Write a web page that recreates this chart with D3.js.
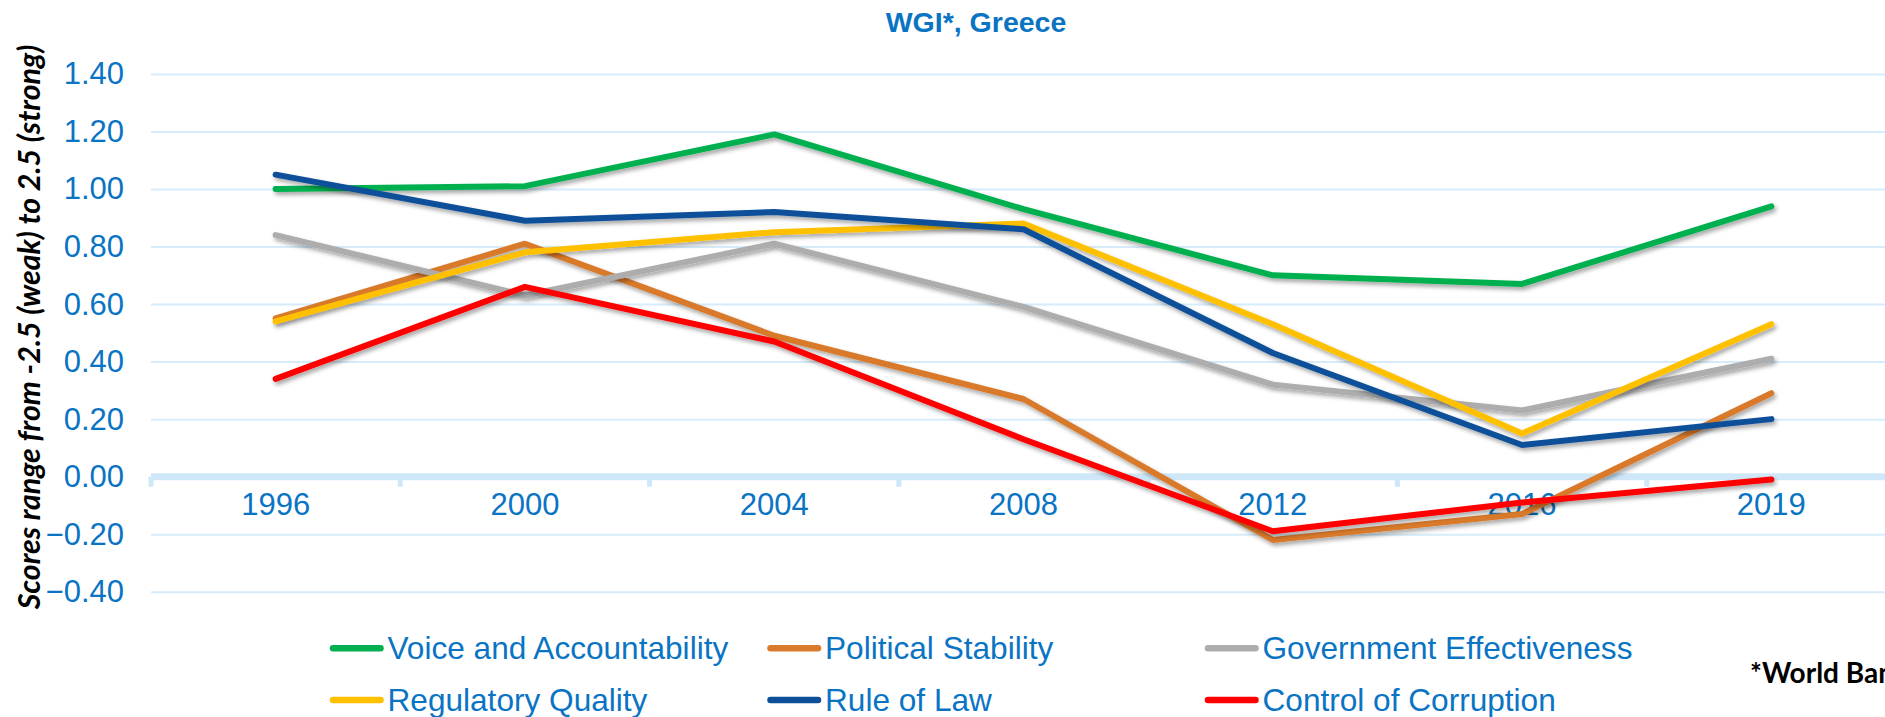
<!DOCTYPE html>
<html><head><meta charset="utf-8">
<script src="https://cdn.jsdelivr.net/npm/d3@7"></script>
<style>
html,body{margin:0;padding:0;background:#fff;overflow:hidden;}
svg{display:block;}
</style></head>
<body>
<svg id="chart" width="1885" height="717"></svg>
<script>
const years = ["1996","2000","2004","2008","2012","2016","2019"];
const voiceAccountability = [1.00,1.01,1.19,0.93,0.70,0.67,0.94];
const politicalStability = [0.55,0.81,0.49,0.27,-0.22,-0.13,0.29];
const govEffectiveness = [0.84,0.63,0.81,0.59,0.32,0.23,0.41];
const regulatoryQuality = [0.54,0.78,0.85,0.88,0.53,0.15,0.53];
const ruleOfLaw = [1.05,0.89,0.92,0.86,0.43,0.11,0.20];
const controlCorruption = [0.34,0.66,0.47,0.13,-0.19,-0.09,-0.01];
const yTickValues = [-0.4,-0.2,0,0.2,0.4,0.6,0.8,1.0,1.2,1.4];
const seriesNames = ["Voice and Accountability","Political Stability","Government Effectiveness","Regulatory Quality","Rule of Law","Control of Corruption"];
const seriesColors = ["#00b050","#d97a2c","#adadad","#ffc000","#0d4f99","#ff0000"];
const seriesValues = [voiceAccountability,politicalStability,govEffectiveness,regulatoryQuality,ruleOfLaw,controlCorruption];

(function(){
const svg = d3.select("#chart");
const blue = "#0a74c4";
const pLeft = 151, pRight = 1896, pTop = 74, pBottom = 591.7;

const x = d3.scaleBand().domain(years).range([pLeft,pRight]).paddingInner(0).paddingOuter(0);
const y = d3.scaleLinear().domain([-0.4,1.4]).range([pBottom,pTop]);

const defs = svg.append("defs");
const f = defs.append("filter").attr("id","shadow").attr("x","-5%").attr("y","-20%").attr("width","110%").attr("height","140%");
f.append("feDropShadow").attr("dx",2).attr("dy",3).attr("stdDeviation",2).attr("flood-color","#000").attr("flood-opacity",0.35);

// gridlines
svg.append("g").attr("transform",`translate(${pLeft},0)`)
  .call(d3.axisLeft(y).tickValues(yTickValues).tickSize(-(pRight-pLeft)).tickFormat(""))
  .call(g=>g.select(".domain").remove())
  .call(g=>g.selectAll("line").attr("stroke","#d6ecfb").attr("stroke-width",2));

// y tick labels
svg.append("g").attr("transform",`translate(${pLeft},0)`)
  .call(d3.axisLeft(y).tickValues(yTickValues).tickSize(0).tickPadding(27).tickFormat(d3.format(".2f")))
  .call(g=>g.select(".domain").remove())
  .call(g=>g.selectAll("text").attr("fill",blue).attr("font-family","'Liberation Sans',Arial,sans-serif").attr("font-size",31));

// zero axis line
svg.append("line").attr("x1",pLeft).attr("x2",pRight).attr("y1",y(0)).attr("y2",y(0))
  .attr("stroke","#cfe8f9").attr("stroke-width",7);
// tick marks at band edges
const edges = years.map(d=>x(d)).concat([x(years[years.length-1])+x.bandwidth()]);
svg.append("g").selectAll("line").data(edges).join("line")
  .attr("x1",d=>d).attr("x2",d=>d).attr("y1",y(0)).attr("y2",y(0)+10)
  .attr("stroke","#cfe8f9").attr("stroke-width",5);

// x labels
svg.append("g").attr("transform",`translate(0,${y(0)})`)
  .call(d3.axisBottom(x).tickSize(0).tickPadding(16))
  .call(g=>g.select(".domain").remove())
  .call(g=>g.selectAll("text").attr("fill",blue).attr("font-family","'Liberation Sans',Arial,sans-serif").attr("font-size",31));

// lines
const line = d3.line().x((d,i)=>x(years[i])+x.bandwidth()/2).y(d=>y(d));
svg.append("g").selectAll("path").data(seriesValues).join("path")
  .attr("d",d=>line(d)).attr("fill","none")
  .attr("stroke",(d,i)=>seriesColors[i]).attr("stroke-width",6)
  .attr("stroke-linecap","round").attr("stroke-linejoin","round")
  .attr("filter","url(#shadow)");

// title
svg.append("text").attr("x",976).attr("y",32).attr("text-anchor","middle")
  .attr("fill",blue).attr("font-family","'Liberation Sans',Arial,sans-serif")
  .attr("font-weight","bold").attr("font-size",28.5).text("WGI*, Greece");

// y axis title
const yt = svg.append("text").attr("transform","translate(39.5,327) rotate(-90)")
  .attr("text-anchor","middle").attr("font-family","Lato,'Open Sans',sans-serif")
  .attr("font-weight","bold").attr("font-style","italic").attr("font-size",28)
  .attr("fill","#000").text("Scores range from -2.5 (weak) to 2.5 (strong)");
const len = yt.node().getComputedTextLength();
yt.attr("font-size",28*565/len);

// legend
const legX = [329.5,767,1204.5];
const legY = [648.3,700];
const leg = svg.append("g").selectAll("g").data(seriesNames).join("g")
  .attr("transform",(d,i)=>`translate(${legX[i%3]},${legY[Math.floor(i/3)]})`);
leg.append("line").attr("x1",3.5).attr("x2",51).attr("y1",0).attr("y2",0)
  .attr("stroke",(d,i)=>seriesColors[i]).attr("stroke-width",6.5).attr("stroke-linecap","round");
leg.append("text").attr("x",58).attr("y",10.8)
  .attr("fill",blue).attr("font-family","'Liberation Sans',Arial,sans-serif").attr("font-size",31.6)
  .text(d=>d);

// source note
svg.append("text").attr("x",1750).attr("y",682.7)
  .attr("font-family","Lato,'Open Sans',sans-serif").attr("font-weight","bold").attr("font-size",28)
  .attr("fill","#000").text("*World Bank");
})();
</script>
</body></html>
